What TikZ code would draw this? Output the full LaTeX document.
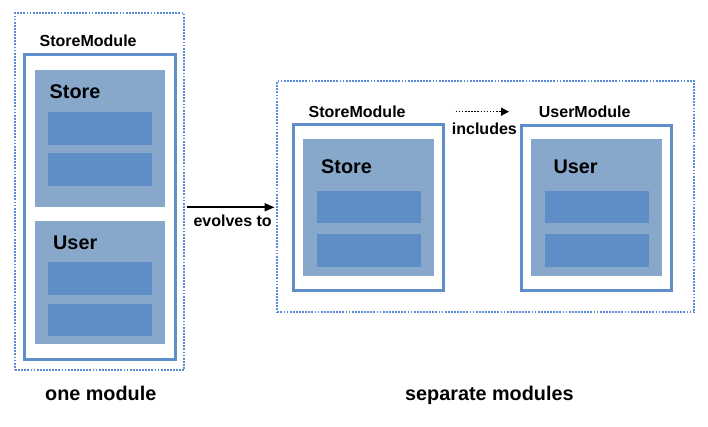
\documentclass[tikz,border=0pt]{standalone}
\usepackage{fontspec}
\setmainfont{Liberation Sans}
\usetikzlibrary{arrows.meta}

\definecolor{dotblue}{HTML}{5A8BD6}
\definecolor{modblue}{HTML}{5E8FCB}
\definecolor{blockblue}{HTML}{88A8CB}
\definecolor{slotblue}{HTML}{5F8EC7}

\tikzset{
    dotbox/.style={draw=dotblue, line width=2pt, dash pattern=on 1.8pt off 1.3pt, inner sep=0pt},
    modbox/.style={draw=modblue, line width=3pt, inner sep=0pt},
    blockbox/.style={fill=blockblue, inner sep=0pt},
    slotbox/.style={fill=slotblue, inner sep=0pt, minimum width=104pt, minimum height=32.5pt},
    lbl/.style={inner sep=0pt, anchor=base west, font=\fontsize{16}{19}\selectfont\bfseries},
    biglbl/.style={inner sep=0pt, anchor=base west, font=\fontsize{19.8}{23}\selectfont\bfseries}
}

\begin{document}
\begin{tikzpicture}[x=1pt, y=-1pt]
        \useasboundingbox (0, 0) rectangle (708, 427);

        % one module
        \node[dotbox, minimum width=169.3pt, minimum height=356.7pt] (leftouter) at (99.7, 191.7) {};
        \node[modbox, minimum width=150.7pt, minimum height=304.7pt] (leftmod) at (99.8, 207.2) {};
        \node[lbl] (leftmodlbl) at (39.5, 46.8) {StoreModule};
        \node[blockbox, minimum width=130pt, minimum height=137.3pt] (leftstore) at (100, 138.7) {};
        \node[biglbl] (leftstorelbl) at (49.5, 99) {Store};
        \node[slotbox] (leftstore1) at (100, 128.3) {};
        \node[slotbox] (leftstore2) at (100, 169.7) {};
        \node[blockbox, minimum width=130pt, minimum height=123.3pt] (leftuser) at (100, 282.7) {};
        \node[biglbl] (leftuserlbl) at (53, 250) {User};
        \node[slotbox] (leftuser1) at (100, 278.3) {};
        \node[slotbox] (leftuser2) at (100, 319.9) {};
        \node[biglbl] (onelbl) at (45, 400.7) {one module};

        % separate modules
        \node[dotbox, minimum width=417pt, minimum height=231.3pt] (rightouter) at (485.8, 196.7) {};
        \node[modbox, minimum width=150pt, minimum height=165pt] (storemod) at (368.7, 207.5) {};
        \node[lbl] (storemodlbl) at (308.5, 117.3) {StoreModule};
        \node[blockbox, minimum width=130.7pt, minimum height=136.7pt] (store) at (368.7, 207.3) {};
        \node[biglbl] (storelbl) at (321, 173.3) {Store};
        \node[slotbox] (store1) at (368.7, 207.2) {};
        \node[slotbox] (store2) at (368.7, 250.3) {};

        \node[modbox, minimum width=150pt, minimum height=165pt] (usermod) at (596.7, 208.3) {};
        \node[lbl] (usermodlbl) at (538.7, 117.7) {UserModule};
        \node[blockbox, minimum width=131.3pt, minimum height=136.7pt] (user) at (596.7, 207.3) {};
        \node[biglbl] (userlbl) at (553.3, 173.3) {User};
        \node[slotbox] (user1) at (596.7, 207.2) {};
        \node[slotbox] (user2) at (596.7, 250.3) {};
        \node[biglbl] (seplbl) at (405, 400.7) {separate modules};

        % arrows
        \coordinate (evostart) at (186.7, 207.3);
        \coordinate (evoend) at (274.5, 207.3);
        \draw[line width=1.7pt, -{Triangle[length=10pt, width=8pt]}] (evostart) -- (evoend);
        \node[lbl] (evolbl) at (193.3, 226.7) {evolves to};

        \coordinate (incstart) at (455.7, 111.7);
        \coordinate (incend) at (509, 111.7);
        \draw[line width=1.5pt, dash pattern=on 1.5pt off 1.6pt, -{Triangle[length=8pt, width=8pt]}]
            (incstart) -- (incend);
        \node[lbl] (inclbl) at (451.7, 135) {includes};
    \end{tikzpicture}
\end{document}
